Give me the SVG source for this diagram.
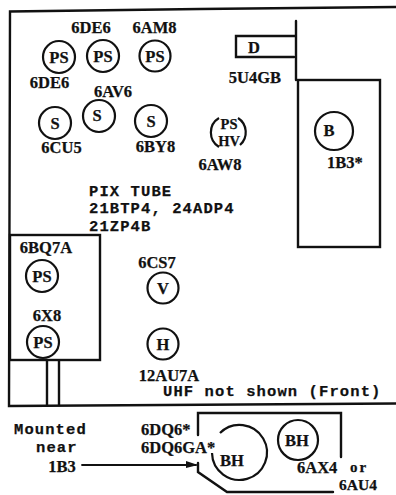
<svg xmlns="http://www.w3.org/2000/svg" width="396" height="495" viewBox="0 0 396 495">
<style>
.l{fill:none;stroke:#111;stroke-width:2.4;stroke-linecap:round}
.c{fill:none;stroke:#111;stroke-width:2.2}
text{font-family:"Liberation Serif",serif;font-weight:bold;font-size:16.5px;fill:#111;stroke:#111;stroke-width:.25px}
.m{text-anchor:middle}
.t{font-family:"Liberation Mono",monospace;font-size:15.5px;letter-spacing:1.100px}
.s{font-size:14.500px}
</style>
<rect width="396" height="495" fill="#fff"/>
<g id="connectors">
<path class="l" d="M396 7L200 9L10 11.500L9 406L396 403.500"/>
<path class="l" d="M296 21V80"/>
<path class="l" d="M47 361V405M59 361V405"/>
<path class="l" style="stroke-width:1.800" d="M82 465H196"/>
<path d="M186 461L198 465L186 468Z" fill="#111"/>
</g>
<g id="node-d"><path class="l" d="M295 36H236V57H294"/><text x="254" y="53" class="m">D</text></g>
<text x="255" y="83" class="m">5U4GB</text>
<g id="node-b"><rect class="l" x="298" y="80" width="82" height="167"/><circle class="c" cx="334" cy="131" r="19"/><text x="329" y="136" class="m">B</text><text x="345" y="168" class="m">1B3*</text></g>
<g id="node-ps1"><circle class="c" cx="59" cy="57" r="16"/><text x="59" y="63" class="m">PS</text></g>
<g id="node-ps2"><circle class="c" cx="103" cy="56" r="16"/><text x="103" y="62" class="m">PS</text></g>
<g id="node-ps3"><circle class="c" cx="155" cy="56" r="15.500"/><text x="155" y="62" class="m">PS</text></g>
<text x="91" y="33" class="m">6DE6</text><text x="154.500" y="33" class="m">6AM8</text><text x="49.500" y="88" class="m">6DE6</text><text x="113" y="97" class="m">6AV6</text>
<g id="node-s1"><circle class="c" cx="55" cy="123" r="16"/><text x="55" y="129" class="m">S</text></g>
<g id="node-s2"><circle class="c" cx="99" cy="116" r="16"/><text x="97" y="121" class="m">S</text></g>
<g id="node-s3"><circle class="c" cx="151" cy="121" r="16"/><text x="151" y="127" class="m">S</text></g>
<text x="61.500" y="153" class="m">6CU5</text><text x="155.500" y="152" class="m">6BY8</text>
<g id="node-hv"><path class="c" d="M219 118A17 17 0 0 0 219 147M238 118A17 17 0 0 1 240 145"/><text x="229" y="129" class="m s">PS</text><text x="229" y="146" class="m s">HV</text></g>
<text x="220" y="170" class="m">6AW8</text>
<g id="pix-tube"><text x="89" y="196" class="t">PIX TUBE</text><text x="89" y="213" class="t">21BTP4, 24ADP4</text><text x="89" y="231" class="t">21ZP4B</text></g>
<g id="node-inner"><rect class="l" x="10" y="235" width="90" height="125"/>
<text x="46" y="253" class="m">6BQ7A</text><circle class="c" cx="42" cy="276" r="16"/><text x="42" y="282" class="m">PS</text>
<text x="47" y="321" class="m">6X8</text><circle class="c" cx="43" cy="342" r="16"/><text x="43" y="348" class="m">PS</text></g>
<g id="node-v"><text x="157" y="268" class="m">6CS7</text><circle class="c" cx="163" cy="288" r="15.500"/><text x="163" y="294" class="m">V</text></g>
<g id="node-h"><circle class="c" cx="163" cy="344" r="15.500"/><text x="163" y="350" class="m">H</text><text x="169" y="381" class="m">12AU7A</text></g>
<text x="163" y="396" class="t">UHF not shown (Front)</text>
<text x="14" y="434" class="t">Mounted</text><text x="36" y="452" class="t">near</text><text x="62" y="472" class="m">1B3</text>
<g id="node-bh"><path class="l" d="M198 435V413H341V457M198 463V472L227 492H333"/>
<path class="c" d="M220 433A27.500 27.500 0 1 1 212 453"/><text x="232" y="466" class="m">BH</text>
<circle class="c" cx="298" cy="440" r="20"/><text x="297" y="446" class="m">BH</text></g>
<text x="141" y="435">6DQ6*</text><text x="141" y="453">6DQ6GA*</text>
<text x="297" y="473">6AX4</text><text x="350" y="472" style="font-size:15px;letter-spacing:2px">or</text><text x="339" y="490" style="font-size:15.500px">6AU4</text>
</svg>
